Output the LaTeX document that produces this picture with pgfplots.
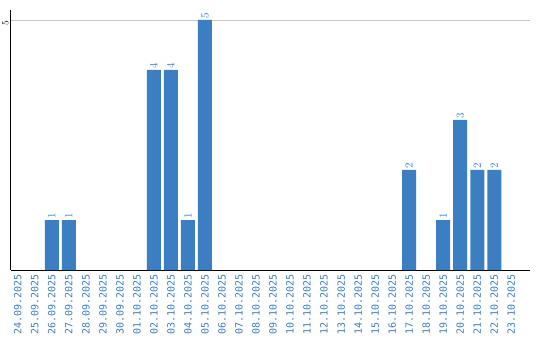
\documentclass[border=0pt]{standalone}
\usepackage{pgfplots}
\pgfplotsset{compat=1.18}
\usepackage{fontspec}
\setmainfont{Liberation Sans}
\setmonofont{DejaVu Sans Mono}
\definecolor{barblue}{RGB}{59,126,194}
\begin{document}
\begin{tikzpicture}[x=1pt,y=1pt]
\useasboundingbox (0,0) rectangle (540,340);
\begin{axis}[
  at={(11pt,70pt)}, anchor=south west,
  scale only axis, width=519pt, height=260pt,
  xmin=-0.4, xmax=30.1, ymin=0, ymax=5.2,
  axis x line*=bottom, axis y line*=left,
  axis line style={black, line width=1pt},
  ytick={5}, ymajorgrids, grid style={black!22, line width=0.8pt},
  xtick={0,...,29},
  xticklabels={24.09.2025,25.09.2025,26.09.2025,27.09.2025,28.09.2025,29.09.2025,30.09.2025,01.10.2025,02.10.2025,03.10.2025,04.10.2025,05.10.2025,06.10.2025,07.10.2025,08.10.2025,09.10.2025,10.10.2025,11.10.2025,12.10.2025,13.10.2025,14.10.2025,15.10.2025,16.10.2025,17.10.2025,18.10.2025,19.10.2025,20.10.2025,21.10.2025,22.10.2025,23.10.2025},
  x tick label style={rotate=90, anchor=east, font=\ttfamily\fontsize{10}{10}\selectfont, text=barblue, inner sep=1pt, xshift=-3pt},
  y tick label style={rotate=90, anchor=south, font=\ttfamily\fontsize{9}{9}\selectfont, inner sep=1pt, yshift=1.5pt, xshift=-3pt},
  major tick length=0pt,
  ybar, bar width=14pt,
  nodes near coords,
  nodes near coords style={rotate=90, anchor=west, text=barblue, font=\ttfamily\fontsize{11}{11}\selectfont, inner sep=1pt},
  clip=false,
]
\addplot[fill=barblue, draw=none] coordinates {
(2,1) (3,1) (8,4) (9,4) (10,1) (11,5) (23,2) (25,1) (26,3) (27,2) (28,2)
};
\end{axis}
\end{tikzpicture}
\end{document}
